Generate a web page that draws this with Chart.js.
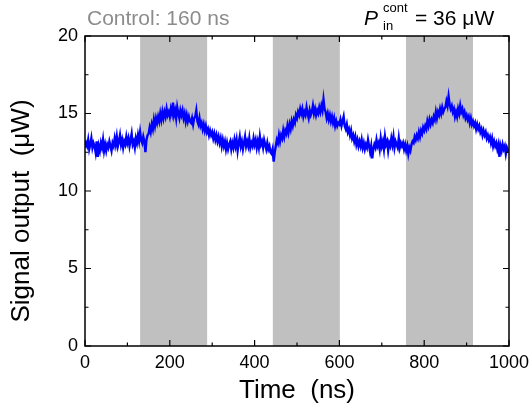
<!DOCTYPE html>
<html>
<head>
<meta charset="utf-8">
<script src="https://cdn.jsdelivr.net/npm/chart.js@4.4.1/dist/chart.umd.min.js"></script>
<style>
  html, body { margin: 0; padding: 0; background: #fff; }
  #wrap { position: relative; width: 530px; height: 414px; }
</style>
</head>
<body>
<div id="wrap"><canvas id="chart" width="530" height="414"></canvas></div>
<script>
(function () {
  'use strict';

  /* Sampling of the trace: one point every 2.5 ns, from 0 to 1000 ns */
  var timeStep = 2.5;

  /* Signal output (uW); one row = 50 ns */
  var signal = [
    12.8, 13.1, 12.9, 13.3, 12.7, 13.0, 13.4, 12.8, 13.1, 12.9, 12.5, 13.2, 12.2, 12.9, 12.6, 13.1, 12.8, 13.3, 12.6, 13.0,
    12.6, 13.0, 12.8, 13.2, 12.9, 12.6, 13.1, 12.9, 13.4, 13.0, 13.5, 12.9, 13.2, 13.6, 13.0, 13.3, 12.8, 13.2, 13.0, 13.5,
    13.1, 13.4, 12.9, 13.3, 13.7, 13.0, 13.2, 12.8, 13.4, 13.1, 13.6, 13.2, 13.8, 13.3, 13.1, 13.5, 13.2, 12.5, 13.3, 13.6,
    13.7, 14.1, 13.8, 14.3, 14.0, 14.6, 14.2, 14.7, 14.4, 14.8, 14.5, 15.0, 14.6, 15.1, 14.7, 15.1, 14.8, 15.3, 14.9, 15.1,
    14.8, 15.3, 15.0, 15.7, 14.9, 15.2, 14.7, 15.4, 15.0, 14.7, 15.2, 14.9, 15.2, 14.7, 15.0, 14.5, 14.9, 14.5, 14.8, 14.5,
    14.4, 14.7, 14.3, 14.7, 14.8, 15.2, 14.5, 14.3, 14.7, 14.2, 14.4, 14.0, 14.3, 13.9, 14.2, 13.8, 14.0, 13.6, 13.9, 13.6,
    13.8, 13.4, 13.7, 13.3, 13.6, 13.2, 13.5, 13.1, 13.4, 12.9, 13.3, 12.9, 13.2, 12.7, 13.1, 12.7, 13.0, 13.2, 12.7, 13.1,
    12.8, 13.3, 12.9, 13.3, 12.6, 13.1, 13.5, 12.9, 13.2, 12.7, 13.1, 13.5, 12.9, 13.2, 12.9, 13.4, 12.8, 13.1, 12.9, 13.4,
    13.0, 13.3, 12.8, 13.2, 12.8, 13.5, 13.0, 13.2, 12.8, 13.3, 13.0, 12.7, 13.1, 12.7, 12.9, 12.5, 12.4, 12.7, 11.9, 12.5,
    12.9, 13.3, 13.1, 13.6, 13.2, 13.6, 13.4, 13.9, 13.5, 13.9, 13.7, 14.2, 13.8, 14.3, 14.0, 14.5, 14.2, 14.6, 14.4, 14.9,
    14.7, 15.1, 14.9, 15.3, 15.0, 15.3, 14.8, 15.1, 14.9, 15.4, 15.0, 14.7, 15.2, 14.9, 15.1, 15.5, 15.0, 15.3, 14.9, 15.2,
    15.0, 15.4, 15.1, 15.5, 15.2, 15.9, 15.3, 15.1, 14.7, 15.0, 14.6, 14.9, 14.5, 14.8, 14.4, 14.7, 14.2, 14.5, 14.2, 14.4,
    14.3, 14.6, 14.2, 14.5, 14.8, 14.2, 14.0, 14.3, 13.8, 14.0, 13.6, 13.9, 13.4, 13.6, 13.2, 13.5, 13.0, 13.3, 12.9, 13.2,
    12.9, 13.3, 12.8, 13.1, 12.7, 13.0, 12.8, 13.3, 12.9, 12.5, 12.9, 12.1, 12.7, 13.0, 12.8, 13.3, 12.9, 13.1, 12.7, 13.4,
    12.9, 13.2, 12.7, 13.5, 13.0, 13.2, 12.6, 13.1, 12.9, 13.4, 13.0, 13.5, 12.8, 13.2, 13.0, 12.8, 13.4, 12.8, 13.1, 12.9,
    13.1, 12.7, 13.0, 12.6, 12.9, 12.4, 12.8, 12.6, 13.0, 13.2, 13.1, 13.5, 13.3, 13.6, 13.4, 13.8, 13.5, 13.9, 13.7, 14.1,
    13.9, 14.2, 14.0, 14.5, 14.2, 14.6, 14.3, 14.6, 14.4, 14.8, 14.6, 15.1, 14.7, 15.1, 14.9, 15.3, 15.0, 15.4, 15.1, 15.3,
    15.4, 15.8, 15.5, 16.1, 15.6, 15.3, 15.5, 15.1, 15.3, 14.8, 15.1, 14.8, 15.3, 15.0, 15.5, 15.1, 15.3, 14.9, 15.1, 14.7,
    14.9, 14.6, 14.8, 14.4, 14.7, 14.3, 14.5, 14.2, 14.4, 14.0, 14.3, 14.0, 14.2, 13.8, 14.0, 13.6, 13.9, 13.6, 13.8, 13.4,
    13.6, 13.3, 13.5, 13.1, 13.4, 12.9, 13.2, 12.9, 13.1, 12.7, 13.0, 12.2, 12.9, 12.6, 13.0, 12.7, 12.9, 12.4, 12.8, 12.6,
    12.7
  ];

  /* Control pulse windows (ns) shown as grey bands */
  var controlStart = [130, 443, 757];
  var controlEnd   = [288, 601, 915];

  /* Axis ranges and ticks */
  var xRange = [0, 1000];
  var xMajor = 200;
  var xMinor = 100;
  var yRange = [0, 20];
  var yMajor = 5;
  var yMinor = 2.5;

  var points = signal.map(function (v, i) { return { x: i * timeStep, y: v }; });

  var FONT = 'Liberation Sans, Arial, sans-serif';

  /* Grey control bands, under the trace */
  var bandsPlugin = {
    id: 'bands',
    beforeDatasetsDraw: function (chart) {
      var ctx = chart.ctx, area = chart.chartArea, xs = chart.scales.x;
      ctx.save();
      ctx.fillStyle = '#c0c0c0';
      controlStart.forEach(function (a, i) {
        var x0 = xs.getPixelForValue(a);
        var x1 = xs.getPixelForValue(controlEnd[i]);
        ctx.fillRect(x0, area.top, x1 - x0, area.bottom - area.top);
      });
      ctx.restore();
    }
  };

  /* Box frame with inward ticks on all four sides, plus header texts */
  var framePlugin = {
    id: 'frame',
    afterDraw: function (chart) {
      var ctx = chart.ctx, a = chart.chartArea;
      var xs = chart.scales.x, ys = chart.scales.y;
      var v, p, len;
      ctx.save();
      ctx.strokeStyle = '#000';
      ctx.lineWidth = 1.5;
      ctx.strokeRect(a.left, a.top, a.right - a.left, a.bottom - a.top);

      ctx.lineWidth = 1.2;
      ctx.beginPath();
      for (v = xRange[0]; v <= xRange[1]; v += xMinor) {
        p = xs.getPixelForValue(v);
        len = (v % xMajor === 0) ? 6 : 3.5;
        ctx.moveTo(p, a.bottom); ctx.lineTo(p, a.bottom - len);
        ctx.moveTo(p, a.top); ctx.lineTo(p, a.top + len);
      }
      for (v = yRange[0]; v <= yRange[1]; v += yMinor) {
        p = ys.getPixelForValue(v);
        len = (v % yMajor === 0) ? 6 : 3.5;
        ctx.moveTo(a.left, p); ctx.lineTo(a.left + len, p);
        ctx.moveTo(a.right, p); ctx.lineTo(a.right - len, p);
      }
      ctx.stroke();

      /* y axis title, sits a bit below the axis centre in the original */
      ctx.fillStyle = '#000';
      ctx.font = '26px ' + FONT;
      ctx.textAlign = 'center';
      ctx.textBaseline = 'middle';
      ctx.translate(22, 211);
      ctx.rotate(-Math.PI / 2);
      ctx.fillText('Signal output  (\u03bcW)', 0, 0);
      ctx.restore();

      ctx.save();
      ctx.textBaseline = 'alphabetic';
      ctx.textAlign = 'left';
      ctx.fillStyle = '#8c8c8c';
      ctx.font = '21px ' + FONT;
      ctx.fillText('Control: 160 ns', 87, 25);

      ctx.fillStyle = '#000';
      ctx.font = 'italic 21px ' + FONT;
      ctx.fillText('P', 364, 25);
      ctx.font = '13px ' + FONT;
      ctx.fillText('cont', 383, 12);
      ctx.fillText('in', 383, 30);
      ctx.font = '21px ' + FONT;
      ctx.fillText('= 36 \u03bcW', 415, 25);
      ctx.restore();
    }
  };

  new Chart(document.getElementById('chart'), {
    type: 'line',
    data: {
      datasets: [{
        data: points,
        borderColor: '#0000ff',
        borderWidth: 2.4,
        pointRadius: 0,
        tension: 0,
        fill: false
      }]
    },
    options: {
      responsive: false,
      animation: false,
      events: [],
      layout: { padding: { left: 0, right: 21, top: 36, bottom: 0 } },
      plugins: { legend: { display: false }, tooltip: { enabled: false } },
      scales: {
        x: {
          type: 'linear',
          min: xRange[0], max: xRange[1],
          grid: { display: false, drawTicks: false },
          border: { display: false },
          ticks: {
            stepSize: xMajor, color: '#000', padding: 6, maxRotation: 0,
            font: { family: FONT, size: 18 },
            callback: function (v) { return String(v); }
          },
          title: { display: true, text: 'Time  (ns)', color: '#000', font: { family: FONT, size: 26 }, padding: { top: 0, bottom: 8 } },
          afterFit: function (s) { s.height = 68; s.paddingLeft = 0; s.paddingRight = 0; }
        },
        y: {
          min: yRange[0], max: yRange[1],
          grid: { display: false, drawTicks: false },
          border: { display: false },
          ticks: { stepSize: yMajor, color: '#000', padding: 7, font: { family: FONT, size: 18 } },
          afterFit: function (s) { s.width = 85; s.paddingTop = 0; s.paddingBottom = 0; }
        }
      }
    },
    plugins: [bandsPlugin, framePlugin]
  });
})();
</script>
</body>
</html>
